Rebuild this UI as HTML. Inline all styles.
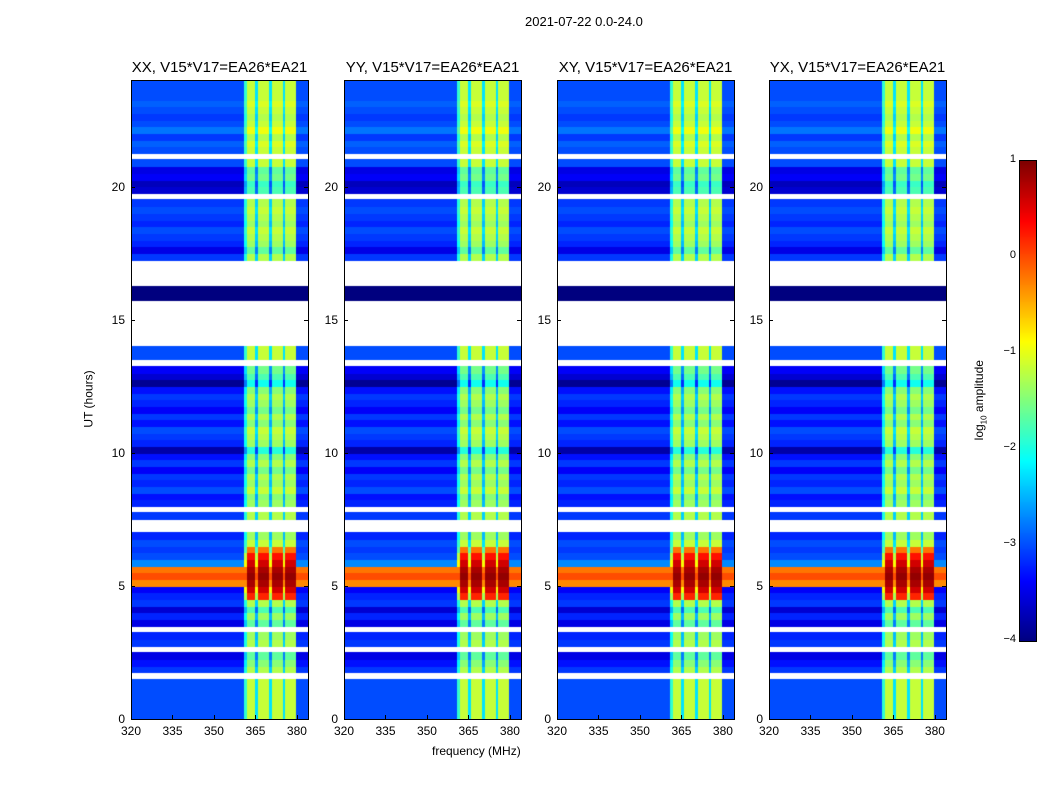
<!DOCTYPE html>
<html><head><meta charset="utf-8"><style>
body{margin:0;background:#fff;font-family:"Liberation Sans",sans-serif;}
#wrap{position:relative;width:1050px;height:800px;overflow:hidden;}
.t{position:absolute;font-size:12px;color:#000;white-space:nowrap;}
canvas{position:absolute;}
</style></head><body>
<div id="wrap">
<div class="t" style="left:525px;top:14px;font-size:13px">2021-07-22 0.0-24.0</div>
<div class="t" style="left:432px;top:744px;font-size:12px">frequency (MHz)</div>
<div class="t" style="left:60px;top:392px;transform:rotate(-90deg);font-size:12px">UT (hours)</div>
<div class="t" style="left:940px;top:392px;transform:rotate(-90deg);font-size:12px">log<sub style="font-size:8px">10</sub> amplitude</div>
<canvas id="cb" width="16" height="480" style="left:1019px;top:160px;border:1px solid #000"></canvas>
</div>
<script>
const panelTitles=["XX, V15*V17=EA26*EA21","YY, V15*V17=EA26*EA21","XY, V15*V17=EA26*EA21","YX, V15*V17=EA26*EA21"];
const xTicks=[320,335,350,365,380];
const yTicks=[0,5,10,15,20];
const cbTicks=[1,0,-1,-2,-3,-4];
// row levels per 0.25 hr from 0 UT (null = no data)
const rowLevels=[-3.0,-3.0,-3.0,-3.0,-3.0,-3.0,null,-3.1,-3.3,-3.5,null,-3.1,-3.2,null,-3.5,-3.2,-3.6,-3.1,-3.2,-3.4,
-0.3,0.0,-0.2,-2.7,-3.0,-3.1,-3.0,-3.2,null,null,-3.1,null,-3.2,-3.3,-3.0,-3.2,-3.1,-3.4,-3.1,-3.3,
-3.8,-3.2,-3.1,-3.0,-3.3,-3.1,-3.4,-3.2,-3.1,-3.3,-3.9,-3.6,-3.4,null,-3.0,-3.0,
null,null,null,null,null,null,null,-4.0,-4.0,null,null,null,null,
-3.1,-3.5,-3.2,-3.1,-3.0,-3.2,-3.1,-3.0,-3.1,null,-3.6,-3.7,-3.4,-3.5,-3.0,null,-3.0,-2.9,-3.1,-2.8,-3.0,-3.1,-3.0,-2.9,-3.0,-3.0,-3.0];
// rows where the band is saturated, and their band level
const hotRows=[18,19,20,21,22,23,24,25];
const hotBandLevels=[0.2,0.6,0.8,0.9,0.8,0.6,0.3,-0.2];
// channel gain per 1 MHz channel from 320 to 383
const channelGain=[];
for(let f=320;f<384;f++){let g=0;if(f>=361&&f<=379){g=(f===365||f===370||f===375)?0.4:1.0;}if(f===361)g=0.6;channelGain.push(g);}
const panelX=[131,344,557,769];
const PW=177,PT=80,PB=719,FMIN=320,FMAX=384,TMAX=24;
function jet(v){let t=Math.max(0,Math.min(1,(v+4)/5));
 const r=Math.max(0,Math.min(1,1.5-Math.abs(4*t-3))),g=Math.max(0,Math.min(1,1.5-Math.abs(4*t-2))),b=Math.max(0,Math.min(1,1.5-Math.abs(4*t-1)));
 return `rgb(${r*255|0},${g*255|0},${b*255|0})`;}
const wrap=document.getElementById('wrap');
function add(tag,cls,style,txt){const e=document.createElement(tag);if(cls)e.className=cls;e.style.cssText=style;if(txt!==undefined)e.textContent=txt;wrap.appendChild(e);return e;}
panelX.forEach((x0,p)=>{
 const xs=f=>x0+(f-FMIN)/(FMAX-FMIN)*PW;
 const ys=h=>PB-h/TMAX*(PB-PT);
 const c=document.createElement('canvas');c.width=PW;c.height=PB-PT;c.style.left=x0+'px';c.style.top=PT+'px';
 
 
 wrap.appendChild(c);const ctx=c.getContext('2d');
 ctx.fillStyle='#fff';ctx.fillRect(0,0,PW,PB-PT);
 rowLevels.forEach((lv,i)=>{if(lv===null)return;
  const yT=ys((i+1)/4)-PT,yB=ys(i/4)-PT;
  const hi=hotRows.indexOf(i);
  channelGain.forEach((g,j)=>{const f=FMIN+j;let v=lv;
   if(g>0&&lv>-3.95){
     if(hi>=0){v=g>=1?hotBandLevels[hi]:Math.max(lv,hotBandLevels[hi]-1.5);}
     else v=lv+1.85*g;}
   ctx.fillStyle=jet(v);const a=xs(f)-x0,b=xs(f+1)-x0;ctx.fillRect(Math.floor(a),Math.floor(yT),Math.ceil(b-a)+1,Math.ceil(yB-yT)+1);});
 });
 const fr=add('div','',`position:absolute;left:${x0}px;top:${PT}px;width:${PW-1}px;height:${PB-PT-1}px;border:1px solid #000`);
 
 
 const tt=add('div','t',`left:${x0-20}px;width:${PW+40}px;text-align:center;top:59px;font-size:15px`,panelTitles[p]);
 
 
 xTicks.forEach(f=>{const l=add('div','t',`left:${xs(f)-20}px;width:40px;text-align:center;top:724px`,f);
  
  
  add('div','',`position:absolute;left:${xs(f)}px;top:${PB-4}px;width:1px;height:4px;background:#000`);});
 yTicks.forEach(h=>{const l=add('div','t',`left:${x0-40}px;width:34px;text-align:right;top:${ys(h)-7}px`,h);
  
  
  add('div','',`position:absolute;left:${x0}px;top:${ys(h)}px;width:4px;height:1px;background:#000`);
  add('div','',`position:absolute;left:${x0+PW-4}px;top:${ys(h)}px;width:4px;height:1px;background:#000`);});
});
const cb=document.getElementById('cb').getContext('2d');
for(let y=0;y<480;y++){cb.fillStyle=jet(1-y/96);cb.fillRect(0,y,16,1);}
cbTicks.forEach(v=>{const y=160+(1-v)*96;
 const l=add('div','t',`left:${1000}px;width:16px;text-align:right;top:${y-7}px;font-size:11px`,v<0?'\u2212'+(-v):v);
 
 });
</script>
</body></html>
